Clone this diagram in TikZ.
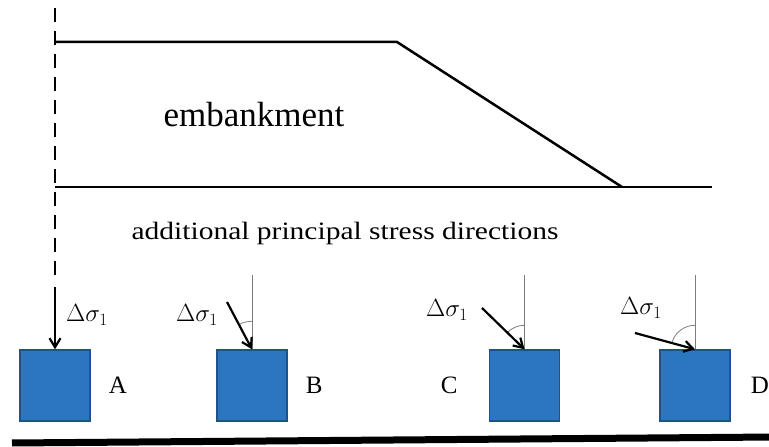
\documentclass[tikz,border=0pt]{standalone}
\usepackage{fontspec}
\setmainfont{Liberation Serif}
\newfontfamily\widefont[FakeStretch=1.18]{Liberation Serif}
\usetikzlibrary{arrows.meta, positioning, angles}
\definecolor{blockblue}{RGB}{44,118,192}
\definecolor{blockedge}{RGB}{30,82,140}
\definecolor{refgray}{RGB}{125,125,125}
\tikzset{
  specimen/.style={rectangle, draw=blockedge, fill=blockblue, line width=1.4pt,
                   minimum width=70pt, minimum height=71pt, inner sep=0pt},
  tag/.style={font=\fontsize{25}{30}\selectfont, inner sep=0pt},
  stresslabel/.style={font=\fontsize{25}{30}\selectfont, inner sep=0pt,
                      anchor=base west},
  stressarr/.style={-{Straight Barb[length=9pt, width=11pt]}, line width=2.2pt},
  refline/.style={draw=refgray, line width=0.8pt},
  ground/.style={line width=2.5pt},
}

\begin{document}
\begin{tikzpicture}[x=1pt, y=1pt]
  \useasboundingbox (0,0) rectangle (769,447);

  % Embankment outline
  \draw[ground] (55,405) -- (397,405) -- (622,260);
  \draw[ground] (55,260) -- (712,260);
  \node[font=\fontsize{35}{40}\selectfont, anchor=base] (embank) at (254,320) {embankment};
  \node[font=\widefont\fontsize{25}{30}\selectfont, anchor=base] (caption) at (345,207)
    {additional principal stress directions};

  % Soil elements
  \node[specimen] (boxA) at (55,61.5) {};
  \node[specimen] (boxB) at (252,61.5) {};
  \node[specimen] (boxC) at (524.5,61.5) {};
  \node[specimen] (boxD) at (695,61.5) {};

  % Element names
  \node[tag, right=18pt of boxA] (labA) {A};
  \node[tag, right=18pt of boxB] (labB) {B};
  \node[tag, left=31pt of boxC]  (labC) {C};
  \node[tag, right=20pt of boxD] (labD) {D};

  % Centre line and vertical stress under the crest
  \coordinate (axisTop) at (55,439);
  \coordinate (axisEnd) at (55,165);
  \draw[line width=2.4pt, dash pattern=on 14pt off 9pt] (axisTop) -- (axisEnd);
  \coordinate (startA) at (55,160);
  \draw[stressarr] (startA) -- (boxA.north);
  \node[stresslabel] (sigA) at (66,125) {$\Delta\sigma_1$};

  % Rotated stresses under the slope
  \foreach \n/\sx/\sy/\r/\lx/\ly in {B/227/145/28/176/125, C/482/139/24/426/130, D/635/114/24/620/132}{
    \coordinate (tip\n) at (box\n.north);
    \coordinate (top\n) at (box\n.north |- 0,172);
    \coordinate (start\n) at (\sx,\sy);
    \draw[refline] (top\n) -- (tip\n);
    \pic[draw=refgray, line width=0.8pt, angle radius=\r pt] {angle = top\n--tip\n--start\n};
    \draw[stressarr] (start\n) -- (tip\n);
    \node[stresslabel] (sig\n) at (\lx,\ly) {$\Delta\sigma_1$};
  }

  % Ground surface
  \draw[line width=7pt] (12,4) -- (775,10);
\end{tikzpicture}
\end{document}
